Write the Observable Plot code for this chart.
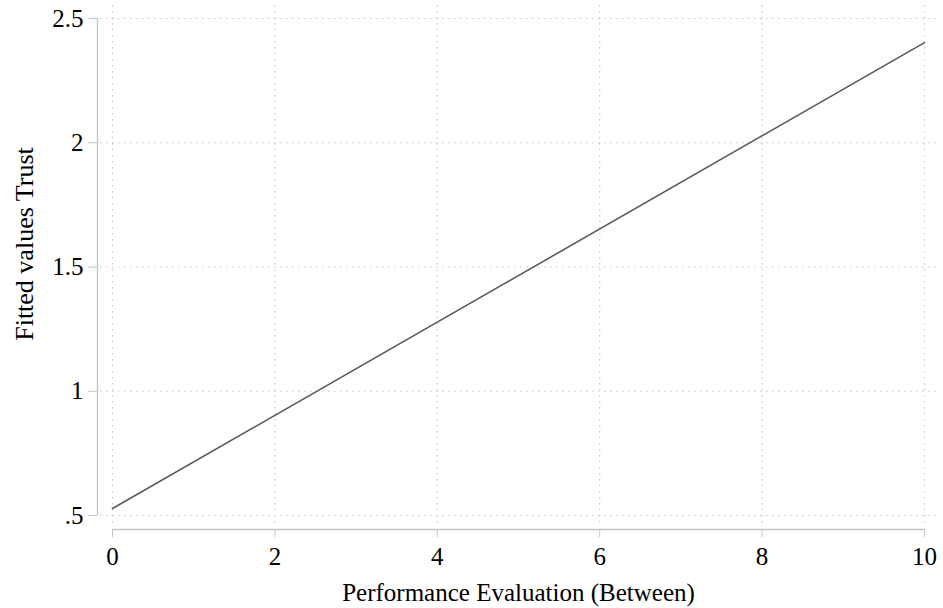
<!DOCTYPE html>
<html>
<head>
<meta charset="utf-8">
<script src="https://cdn.jsdelivr.net/npm/d3@7"></script>
<script src="https://cdn.jsdelivr.net/npm/@observablehq/plot@0.6"></script>
<style>
  body { margin: 0; background: #fff; }
  svg { font-family: "Liberation Serif", "Times New Roman", serif; }
</style>
</head>
<body>
<div id="chart"></div>
<script>
const perfEval = [0, 10];
const fittedTrust = [0.528, 2.403];
const xTicks = [0, 2, 4, 6, 8, 10];
const yTicks = [0.5, 1, 1.5, 2, 2.5];
const yTickLabels = [".5", "1", "1.5", "2", "2.5"];
const xTitle = "Performance Evaluation (Between)";
const yTitle = "Fitted values Trust";

const data = perfEval.map((x, i) => ({x, y: fittedTrust[i]}));

const chart = Plot.plot({
  width: 943,
  height: 608,
  marginLeft: 112,
  marginRight: 19,
  marginTop: 18,
  marginBottom: 93,
  style: {fontFamily: "Liberation Serif, Times New Roman, serif", fontSize: "24px", color: "#000", background: "#fff"},
  x: {domain: [0, 10]},
  y: {domain: [0.5, 2.5]},
  marks: [
    Plot.ruleY(yTicks, {stroke: "#c8c8c8", strokeWidth: 1.2, strokeDasharray: "1.5,4.5", insetLeft: -12, insetRight: -16}),
    Plot.ruleX(xTicks, {stroke: "#c8c8c8", strokeWidth: 1.2, strokeDasharray: "1.5,4.5", insetTop: -13, insetBottom: -8}),
    Plot.ruleX([0], {stroke: "#c4c4c4", strokeWidth: 1.3, dx: -15}),
    Plot.ruleY([0.5], {stroke: "#c4c4c4", strokeWidth: 1.3, dy: 14}),
    Plot.axisY({
      ticks: yTicks,
      tickFormat: (d) => yTickLabels[yTicks.indexOf(d)],
      tickSize: 9,
      tickPadding: 5,
      dx: -15,
      stroke: "#c4c4c4",
      fill: "#000",
      fontSize: 25,
      label: null
    }),
    Plot.axisX({
      ticks: xTicks,
      tickSize: 8,
      tickPadding: 10,
      dy: 14,
      stroke: "#c4c4c4",
      fill: "#000",
      fontSize: 25,
      label: null
    }),
    Plot.text([xTitle], {frameAnchor: "bottom", dy: 85, fontSize: 25, fill: "#000"}),
    Plot.text([yTitle], {frameAnchor: "left", textAnchor: "middle", rotate: -90, dx: -88, dy: -23, fontSize: 26, fill: "#000"}),
    Plot.line(data, {x: "x", y: "y", stroke: "#5a5a5a", strokeWidth: 1.6})
  ]
});
document.getElementById("chart").appendChild(chart);
</script>
</body>
</html>
